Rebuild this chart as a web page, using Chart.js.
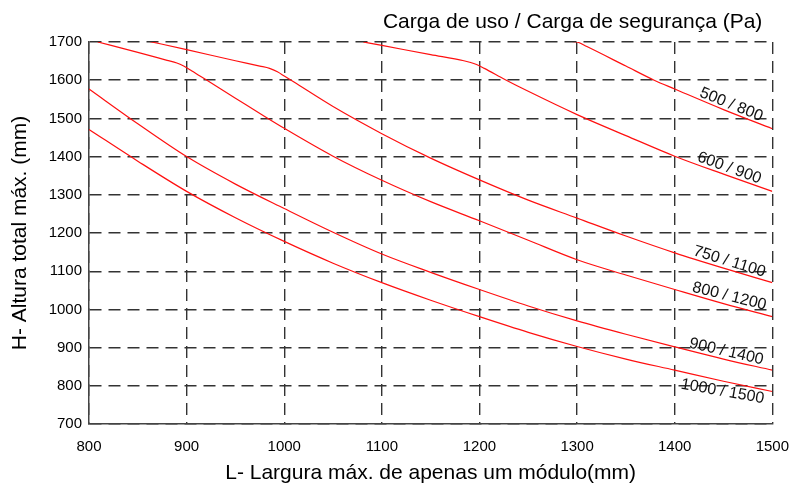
<!DOCTYPE html>
<html>
<head>
<meta charset="utf-8">
<script src="https://cdn.jsdelivr.net/npm/chart.js@4.4.1/dist/chart.umd.min.js"></script>
<style>
  html, body { margin: 0; padding: 0; background: #fff; }
</style>
</head>
<body>
<canvas id="chart" width="789" height="484"></canvas>
<script>
const xTicks = [800, 900, 1000, 1100, 1200, 1300, 1400, 1500];
const yTicks = [700, 800, 900, 1000, 1100, 1200, 1300, 1400, 1500, 1600, 1700];

const seriesNames = ["500 / 800", "600 / 900", "750 / 1100", "800 / 1200", "900 / 1400", "1000 / 1500"];

const load500X = [1291, 1300, 1310, 1350, 1379, 1400, 1450, 1500];
const load500Y = [1702, 1700, 1688, 1637, 1600, 1577, 1523, 1473];

const load600X = [1081, 1100, 1150, 1184, 1190, 1197, 1205, 1226, 1250, 1300, 1350, 1400, 1450, 1500];
const load600Y = [1700, 1691, 1667, 1651, 1647, 1641, 1631, 1602, 1571, 1510, 1455, 1401, 1354, 1309];

const load750X = [861, 900, 950, 975, 985, 993, 1000, 1010, 1050, 1100, 1150, 1200, 1250, 1300, 1350, 1400, 1450, 1500];
const load750Y = [1702, 1680, 1651, 1637, 1631, 1622, 1611, 1595, 1531, 1460, 1396, 1339, 1286, 1239, 1192, 1148, 1108, 1070];

const load800X = [809, 850, 880, 890, 897, 905, 920, 950, 980, 1000, 1050, 1100, 1150, 1200, 1250, 1300, 1350, 1400, 1450, 1500];
const load800Y = [1700, 1673, 1652, 1645, 1637, 1625, 1601, 1553, 1505, 1474, 1401, 1338, 1282, 1232, 1181, 1130, 1090, 1052, 1015, 981];

const load900X = [800, 850, 900, 950, 1000, 1050, 1100, 1150, 1200, 1250, 1300, 1350, 1400, 1450, 1500];
const load900Y = [1577, 1486, 1400, 1328, 1264, 1202, 1145, 1097, 1052, 1009, 970, 935, 902, 870, 841];

const load1000X = [800, 850, 900, 950, 1000, 1050, 1100, 1150, 1200, 1250, 1300, 1350, 1400, 1450, 1500];
const load1000Y = [1471, 1388, 1309, 1240, 1178, 1121, 1070, 1024, 981, 940, 903, 870, 841, 812, 785];

const seriesX = [load500X, load600X, load750X, load800X, load900X, load1000X];
const seriesY = [load500Y, load600Y, load750Y, load800Y, load900Y, load1000Y];

// where each curve label sits (data units) and its tilt in degrees
const labelAt = [
  { x: 1458, y: 1536, angle: 22 },
  { x: 1456, y: 1370, angle: 20 },
  { x: 1456, y: 1125, angle: 17 },
  { x: 1456, y: 1034, angle: 14 },
  { x: 1453, y: 889, angle: 13 },
  { x: 1449, y: 785, angle: 10 }
];

const FONT = "'Liberation Sans', Arial, sans-serif";

function toPoints(xs, ys) {
  return xs.map((x, i) => ({ x: x, y: ys[i] }));
}

const curveLabels = {
  id: "curveLabels",
  afterDatasetsDraw(chart) {
    const { ctx, scales } = chart;
    ctx.save();
    ctx.font = `16px ${FONT}`;
    ctx.fillStyle = "#111";
    ctx.textAlign = "center";
    ctx.textBaseline = "middle";
    seriesNames.forEach((name, i) => {
      const a = labelAt[i];
      const px = scales.x.getPixelForValue(a.x);
      const py = scales.y.getPixelForValue(a.y);
      ctx.save();
      ctx.translate(px, py);
      ctx.rotate(a.angle * Math.PI / 180);
      ctx.fillText(name, 0, 0);
      ctx.restore();
    });
    // legend title, top right
    ctx.font = `21px ${FONT}`;
    ctx.fillStyle = "#000";
    ctx.textAlign = "right";
    ctx.fillText("Carga de uso / Carga de segurança (Pa)", chart.chartArea.right - 10, 22);
    ctx.restore();
  }
};

new Chart(document.getElementById("chart"), {
  type: "scatter",
  data: {
    datasets: seriesNames.map((name, i) => ({
      label: name,
      data: toPoints(seriesX[i], seriesY[i]),
      showLine: true,
      borderColor: "#ff1010",
      borderWidth: 1.2,
      pointRadius: 0,
      cubicInterpolationMode: "monotone",
      fill: false
    }))
  },
  options: {
    responsive: false,
    animation: false,
    devicePixelRatio: 1,
    layout: { padding: { top: 42, left: 0, right: 0, bottom: 0 } },
    plugins: {
      legend: { display: false },
      tooltip: { enabled: false }
    },
    scales: {
      x: {
        type: "linear",
        min: 800,
        max: 1500,
        afterBuildTicks: axis => { axis.ticks = xTicks.map(v => ({ value: v })); },
        afterFit: axis => { axis.height = 60; },
        grid: { color: "#333", lineWidth: 1.4, drawTicks: true, tickLength: 14, tickColor: "rgba(0,0,0,0)" },
        border: { display: true, color: "#444", width: 1.5, dash: [12, 7] },
        ticks: {
          color: "#000",
          font: { family: FONT, size: 15 },
          padding: 0,
          maxRotation: 0,
          callback: v => String(v)
        },
        title: {
          display: true,
          text: "L- Largura máx. de apenas um módulo(mm)",
          color: "#000",
          font: { family: FONT, size: 21, lineHeight: 1 },
          padding: { top: 0, bottom: 0 }
        }
      },
      y: {
        type: "linear",
        min: 700,
        max: 1700,
        afterBuildTicks: axis => { axis.ticks = yTicks.map(v => ({ value: v })); },
        afterFit: axis => { axis.width = 89; },
        grid: { color: "#333", lineWidth: 1.4, drawTicks: false },
        border: { display: true, color: "#444", width: 1.5, dash: [12, 7] },
        ticks: {
          color: "#000",
          font: { family: FONT, size: 15 },
          padding: 7,
          callback: v => String(v)
        },
        title: {
          display: true,
          text: "H- Altura total máx. (mm)",
          color: "#000",
          font: { family: FONT, size: 21, lineHeight: 1 },
          padding: { top: 10, bottom: 0 }
        }
      }
    }
  },
  plugins: [curveLabels]
});
</script>
</body>
</html>
